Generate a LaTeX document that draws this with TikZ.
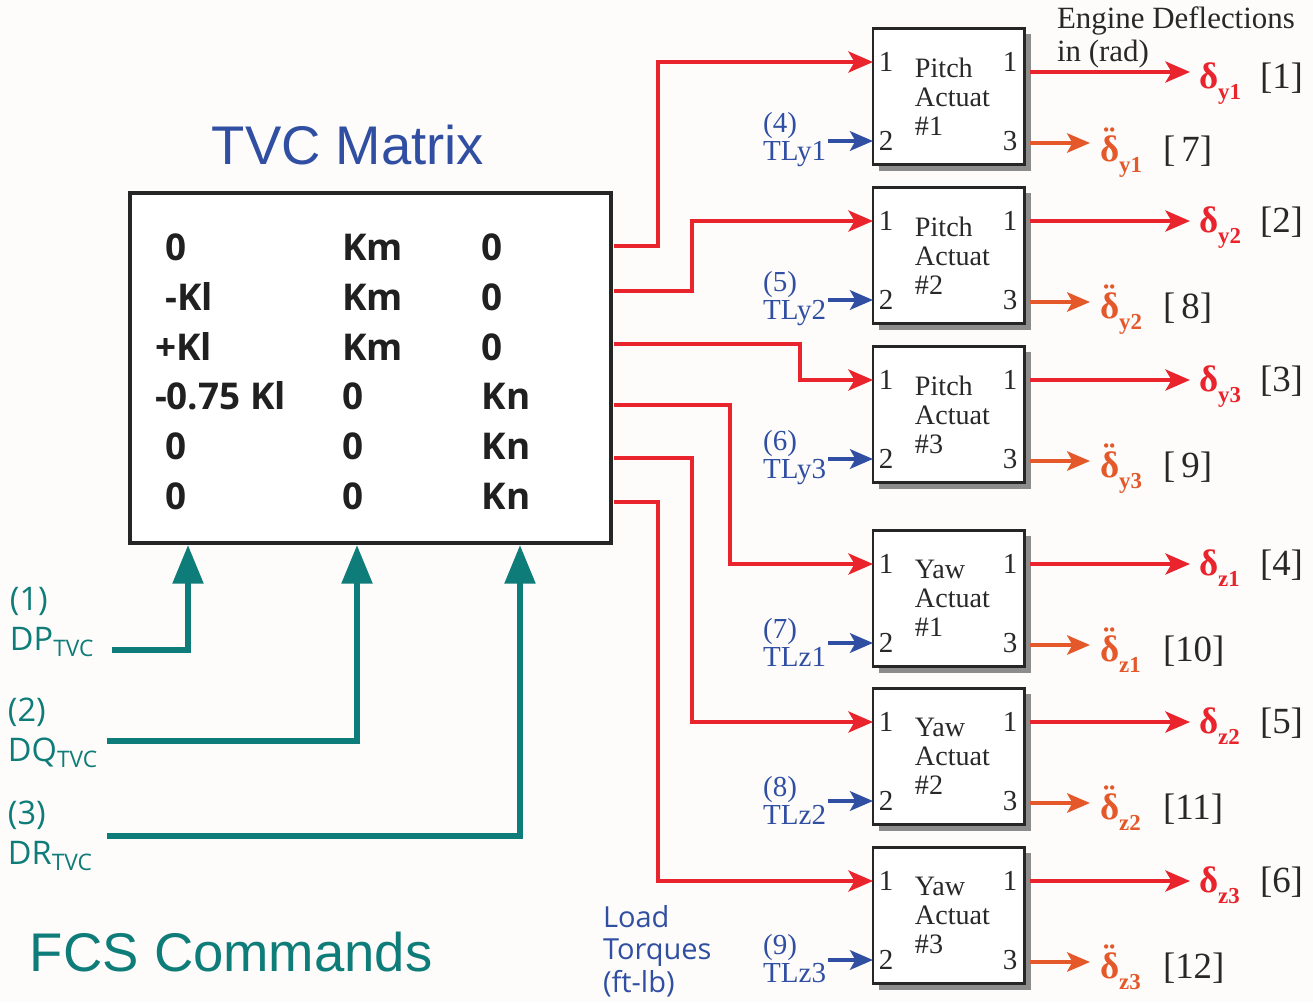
\documentclass[tikz,border=0pt]{standalone}
\usepackage{fontspec}
\setmainfont{Liberation Serif}
\setsansfont{Open Sans}
\newfontfamily\titlefont{Liberation Sans}
\usetikzlibrary{arrows.meta,positioning,shadows}
\definecolor{tvcred}{RGB}{234,36,44}
\definecolor{tvcorange}{RGB}{228,88,42}
\definecolor{tvcblue}{RGB}{48,78,162}
\definecolor{tvcteal}{RGB}{14,124,120}
\definecolor{txtgrey}{RGB}{40,40,40}
\definecolor{pagebg}{RGB}{253,252,250}
\newcommand{\dfl}[1]{\textbf{δ\raisebox{-0.3em}{\fontsize{13}{13}\selectfont #1}}}
\newcommand{\ddfl}[1]{\textbf{\accent"A8 δ\raisebox{-0.3em}{\fontsize{13}{13}\selectfont #1}}}

\begin{document}
\begin{tikzpicture}[x=0.02cm,y=-0.02cm,
  every node/.style={inner sep=0pt,outer sep=0pt},
  matbox/.style={draw=black!85,line width=1.8pt,fill=white,minimum width=9.62cm,minimum height=7cm},
  act/.style={draw=black!85,line width=1.7pt,fill=white,minimum width=3.04cm,minimum height=2.74cm,
              text width=1.36cm,align=left,text=txtgrey,font=\fontsize{16}{16.5}\selectfont,
              general shadow={fill=black!45,shadow xshift=3.2pt,shadow yshift=-3.2pt}},
  port/.style={text=txtgrey,font=\fontsize{16.5}{16.5}\selectfont},
  tlbl/.style={align=left,text=tvcblue,font=\fontsize{16.5}{16}\selectfont},
  cmdlbl/.style={align=left,text=tvcteal,font=\sffamily\fontsize{18.5}{22.7}\selectfont},
  dlbl/.style={font=\fontsize{21}{21}\selectfont},
  idx/.style={text=txtgrey,font=\fontsize{21}{21}\selectfont},
  redar/.style={-{Stealth[length=14pt,width=12pt,inset=3.5pt]},line width=2.1pt,draw=tvcred},
  orar/.style={-{Stealth[length=13pt,width=11pt,inset=3pt]},line width=2.1pt,draw=tvcorange},
  bluar/.style={-{Stealth[length=13pt,width=11pt,inset=3pt]},line width=2.6pt,draw=tvcblue},
  tealar/.style={-{Triangle[length=22pt,width=17pt]},line width=3.3pt,draw=tvcteal}]
\useasboundingbox (0,0) rectangle (1313,1002);
\fill[pagebg] (0,0) rectangle (1313,1002);

% TVC matrix
\node[text=tvcblue,font=\titlefont\fontsize{31}{31}\selectfont] (ttl) at (348,145) {TVC Matrix};
\node[matbox] (tvc) at (370.5,368) {};
\node[anchor=west,text=txtgrey!80!black,font=\sffamily\bfseries\fontsize{21}{28.35}\selectfont] (mtx) at (155,375)
  {\begin{tabular}{@{}p{94.6pt}p{67.4pt}l@{}}
   \hspace*{6pt}0 & Km & 0\\
   \hspace*{6pt}-Kl & Km & 0\\
   +Kl & Km & 0\\
   -0.75 Kl & 0 & Kn\\
   \hspace*{6pt}0 & 0 & Kn\\
   \hspace*{6pt}0 & 0 & Kn
   \end{tabular}};

% FCS commands
\node[cmdlbl,anchor=north west] (dp) at (10,587) {(1)\\DP\textsubscript{TVC}};
\node[cmdlbl,anchor=north west] (dq) at (8,698) {(2)\\DQ\textsubscript{TVC}};
\node[cmdlbl,anchor=north west] (dr) at (8,801) {(3)\\DR\textsubscript{TVC}};
\node[anchor=west,text=tvcteal,font=\titlefont\fontsize{31}{31}\selectfont] (fcs) at (30,952) {FCS Commands};
\coordinate (c1) at (112,650); \coordinate (b1) at (188,545);
\coordinate (c2) at (107,741); \coordinate (b2) at (357,545);
\coordinate (c3) at (107,836); \coordinate (b3) at (520,545);
\draw[tealar] (c1) -| (b1);
\draw[tealar] (c2) -| (b2);
\draw[tealar] (c3) -| (b3);

% actuators
\node[act,anchor=north west] (pa1) at (873,28) {Pitch\\Actuat\\\#1};
\node[act,anchor=north west] (pa2) at (873,187) {Pitch\\Actuat\\\#2};
\node[act,anchor=north west] (pa3) at (873,346) {Pitch\\Actuat\\\#3};
\node[act,anchor=north west] (ya1) at (873,530) {Yaw\\Actuat\\\#1};
\node[act,anchor=north west] (ya2) at (873,688) {Yaw\\Actuat\\\#2};
\node[act,anchor=north west] (ya3) at (873,847) {Yaw\\Actuat\\\#3};
\node[port] (pa1a) at (886,62) {1}; \node[port] (pa1b) at (886,141) {2};
\node[port] (pa1c) at (1010,62) {1}; \node[port] (pa1d) at (1010,141) {3};
\node[port] (pa2a) at (886,221) {1}; \node[port] (pa2b) at (886,300) {2};
\node[port] (pa2c) at (1010,221) {1}; \node[port] (pa2d) at (1010,300) {3};
\node[port] (pa3a) at (886,380) {1}; \node[port] (pa3b) at (886,459) {2};
\node[port] (pa3c) at (1010,380) {1}; \node[port] (pa3d) at (1010,459) {3};
\node[port] (ya1a) at (886,564) {1}; \node[port] (ya1b) at (886,643) {2};
\node[port] (ya1c) at (1010,564) {1}; \node[port] (ya1d) at (1010,643) {3};
\node[port] (ya2a) at (886,722) {1}; \node[port] (ya2b) at (886,801) {2};
\node[port] (ya2c) at (1010,722) {1}; \node[port] (ya2d) at (1010,801) {3};
\node[port] (ya3a) at (886,881) {1}; \node[port] (ya3b) at (886,960) {2};
\node[port] (ya3c) at (1010,881) {1}; \node[port] (ya3d) at (1010,960) {3};

% matrix outputs to actuators
\coordinate (m1) at (614,246); \coordinate (m2) at (614,291); \coordinate (m3) at (614,344);
\coordinate (m4) at (614,405); \coordinate (m5) at (614,458); \coordinate (m6) at (614,502);
\draw[redar] (m1) -- ++(44,0) |- (pa1.west |- pa1a);
\draw[redar] (m2) -- ++(78,0) |- (pa2.west |- pa2a);
\draw[redar] (m3) -- ++(186,0) |- (pa3.west |- pa3a);
\draw[redar] (m4) -- ++(116,0) |- (ya1.west |- ya1a);
\draw[redar] (m5) -- ++(78,0) |- (ya2.west |- ya2a);
\draw[redar] (m6) -- ++(44,0) |- (ya3.west |- ya3a);

% load torques
\node[anchor=north west,align=left,text=tvcblue,font=\sffamily\fontsize{16.5}{18.7}\selectfont] (ld) at (603,905) {Load\\Torques\\(ft-lb)};
\node[tlbl,anchor=east] (tl4) at (826,140) {(4)\\TLy1};
\node[tlbl,anchor=east] (tl5) at (826,299) {(5)\\TLy2};
\node[tlbl,anchor=east] (tl6) at (826,458) {(6)\\TLy3};
\node[tlbl,anchor=east] (tl7) at (826,642) {(7)\\TLz1};
\node[tlbl,anchor=east] (tl8) at (826,800) {(8)\\TLz2};
\node[tlbl,anchor=east] (tl9) at (826,959) {(9)\\TLz3};
\draw[bluar] ([xshift=1pt]tl4.east |- pa1b) -- (pa1.west |- pa1b);
\draw[bluar] ([xshift=1pt]tl5.east |- pa2b) -- (pa2.west |- pa2b);
\draw[bluar] ([xshift=1pt]tl6.east |- pa3b) -- (pa3.west |- pa3b);
\draw[bluar] ([xshift=1pt]tl7.east |- ya1b) -- (ya1.west |- ya1b);
\draw[bluar] ([xshift=1pt]tl8.east |- ya2b) -- (ya2.west |- ya2b);
\draw[bluar] ([xshift=1pt]tl9.east |- ya3b) -- (ya3.west |- ya3b);

% engine deflections
\node[anchor=north west,align=left,text=txtgrey,font=\fontsize{17.6}{18.5}\selectfont] (eng) at (1057,7) {Engine Deflections\\in (rad)};
\coordinate (o1) at (1190,72);  \coordinate (q1) at (1090,143);
\coordinate (o2) at (1190,221); \coordinate (q2) at (1090,302);
\coordinate (o3) at (1190,380); \coordinate (q3) at (1090,461);
\coordinate (o4) at (1190,564); \coordinate (q4) at (1090,645);
\coordinate (o5) at (1190,722); \coordinate (q5) at (1090,803);
\coordinate (o6) at (1190,881); \coordinate (q6) at (1090,962);
\draw[redar] ([xshift=3pt]pa1.east |- o1) -- (o1);
\draw[redar] ([xshift=3pt]pa2.east |- o2) -- (o2);
\draw[redar] ([xshift=3pt]pa3.east |- o3) -- (o3);
\draw[redar] ([xshift=3pt]ya1.east |- o4) -- (o4);
\draw[redar] ([xshift=3pt]ya2.east |- o5) -- (o5);
\draw[redar] ([xshift=3pt]ya3.east |- o6) -- (o6);
\draw[orar] ([xshift=3pt]pa1.east |- q1) -- (q1);
\draw[orar] ([xshift=3pt]pa2.east |- q2) -- (q2);
\draw[orar] ([xshift=3pt]pa3.east |- q3) -- (q3);
\draw[orar] ([xshift=3pt]ya1.east |- q4) -- (q4);
\draw[orar] ([xshift=3pt]ya2.east |- q5) -- (q5);
\draw[orar] ([xshift=3pt]ya3.east |- q6) -- (q6);

\node[dlbl,text=tvcred,anchor=base west] (d1) at (1199,88) {\dfl{y1}};
\node[dlbl,text=tvcred,anchor=base west] (d2) at (1199,232) {\dfl{y2}};
\node[dlbl,text=tvcred,anchor=base west] (d3) at (1199,391) {\dfl{y3}};
\node[dlbl,text=tvcred,anchor=base west] (d4) at (1199,575) {\dfl{z1}};
\node[dlbl,text=tvcred,anchor=base west] (d5) at (1199,733) {\dfl{z2}};
\node[dlbl,text=tvcred,anchor=base west] (d6) at (1199,892) {\dfl{z3}};
\node[idx,anchor=base west] (n1) at (1260,88) {[1]};
\node[idx,anchor=base west] (n2) at (1260,232) {[2]};
\node[idx,anchor=base west] (n3) at (1260,391) {[3]};
\node[idx,anchor=base west] (n4) at (1260,575) {[4]};
\node[idx,anchor=base west] (n5) at (1260,733) {[5]};
\node[idx,anchor=base west] (n6) at (1260,892) {[6]};
\node[dlbl,text=tvcorange,anchor=base west] (dd1) at (1100,161) {\ddfl{y1}};
\node[dlbl,text=tvcorange,anchor=base west] (dd2) at (1100,318) {\ddfl{y2}};
\node[dlbl,text=tvcorange,anchor=base west] (dd3) at (1100,477) {\ddfl{y3}};
\node[dlbl,text=tvcorange,anchor=base west] (dd4) at (1100,661) {\ddfl{z1}};
\node[dlbl,text=tvcorange,anchor=base west] (dd5) at (1100,819) {\ddfl{z2}};
\node[dlbl,text=tvcorange,anchor=base west] (dd6) at (1100,978) {\ddfl{z3}};
\node[idx,anchor=base west] (n7) at (1163,161) {[\,7]};
\node[idx,anchor=base west] (n8) at (1163,318) {[\,8]};
\node[idx,anchor=base west] (n9) at (1163,477) {[\,9]};
\node[idx,anchor=base west] (n10) at (1163,661) {[10]};
\node[idx,anchor=base west] (n11) at (1163,819) {[11]};
\node[idx,anchor=base west] (n12) at (1163,978) {[12]};
\end{tikzpicture}
\end{document}
